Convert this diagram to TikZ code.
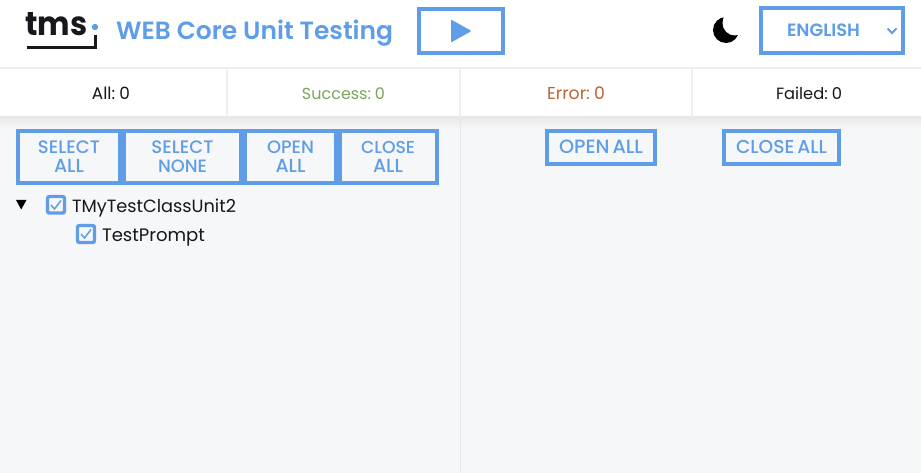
\documentclass[tikz,border=0pt]{standalone}
\usepackage{fontspec}
\usepackage{graphicx}
\setmainfont{Poppins}[WordSpace=0.6]
\newfontfamily\pmed{Poppins Medium}[WordSpace=0.6]
\newfontfamily\psemi{Poppins SemiBold}[WordSpace=0.6]
\newfontfamily\ptitle{Poppins SemiBold}[WordSpace=1.0]
\definecolor{tblue}{HTML}{5F9DE6}
\definecolor{bodybg}{HTML}{F6F7F9}
\definecolor{rule}{HTML}{EEEEEE}
\definecolor{okgreen}{HTML}{7CA55A}
\definecolor{errred}{HTML}{B9653A}
\definecolor{ink}{HTML}{17171C}
\newcommand{\fw}[2]{\resizebox{#1pt}{!}{#2}}
\newcommand{\fwh}[3]{\resizebox{#1pt}{#2pt}{#3}}
\tikzset{
  lbl/.style={inner sep=0pt,outer sep=0pt,anchor=base,text=ink},
  lbll/.style={inner sep=0pt,outer sep=0pt,anchor=base west,text=ink},
  btxt/.style={inner sep=0pt,outer sep=0pt,anchor=base,text=tblue},
  frame/.style={draw=tblue,line width=4pt,fill=none},
  sep/.style={draw=rule,line width=2pt},
  cbox/.style={draw=tblue,line width=3.4pt,rounded corners=2pt,fill=bodybg},
  ctick/.style={draw=tblue,line width=1.5pt}
}
\begin{document}
\begin{tikzpicture}[x=1pt,y=-1pt]
\useasboundingbox (0,0) rectangle (921,473);
% backgrounds
\fill[bodybg] (0,0) rectangle (921,473);
\fill[white] (0,0) rectangle (921,117);
\shade[top color=black!9,bottom color=bodybg] (0,117) rectangle (921,129);
% separators
\draw[sep] (0,68) -- (921,68);
\draw[sep] (227,69) -- (227,117);
\draw[sep] (460,69) -- (460,117);
\draw[sep] (692,69) -- (692,117);
\draw[draw=black!9,line width=1.6pt] (460.5,117) -- (460.5,473);
% logo
\node[inner sep=0pt,anchor=base west,text=ink] (logo) at (25,35.5) {\fwh{62}{23}{\bfseries tms}};
\fill[tblue] (95,27) circle (3.2);
\draw[ink,line width=2.8pt] (27,47.5) -- (95.5,47.5) -- (95.5,35);
% title
\node[btxt,anchor=base west] (title) at (116,40) {\fw{277}{\ptitle WEB Core Unit Testing}};
% play button
\draw[frame] (419,9) rectangle (503,53);
\fill[tblue,rounded corners=1pt] (451,19.5) -- (471.5,31) -- (451,42.5) -- cycle;
% moon
\fill[black] (726,30) circle (13);
\fill[white] (735,23) circle (12.5);
% language select
\draw[frame] (761,8) rectangle (903,53);
\node[btxt] (lang) at (823.5,36.5) {\fw{73}{\psemi ENGLISH}};
\draw[tblue,line width=2pt] (887.5,28.5) -- (892,33) -- (896.5,28.5);
% stats
\node[lbl] (all) at (111,99.5) {\fw{38}{All: 0}};
\node[lbl,text=okgreen] (succ) at (343.5,99.5) {\fw{83}{Success: 0}};
\node[lbl,text=errred] (err) at (576,99.5) {\fw{58}{Error: 0}};
\node[lbl] (fail) at (809,99.5) {\fw{66}{Failed: 0}};
% left buttons
\draw[frame] (18,131) rectangle (120,183);
\draw[frame] (124,131) rectangle (241,183);
\draw[frame] (245,131) rectangle (336,183);
\draw[frame] (340,131) rectangle (437,183);
\node[btxt] (sa1) at (69,154) {\fw{62}{\pmed SELECT}};
\node[btxt] (sa2) at (69,173) {\fw{30}{\pmed ALL}};
\node[btxt] (sn1) at (182.5,154) {\fw{62}{\pmed SELECT}};
\node[btxt] (sn2) at (182.5,173) {\fw{49}{\pmed NONE}};
\node[btxt] (oa1) at (290.5,154) {\fw{47}{\pmed OPEN}};
\node[btxt] (oa2) at (290.5,173) {\fw{30}{\pmed ALL}};
\node[btxt] (ca1) at (388,154) {\fw{54}{\pmed CLOSE}};
\node[btxt] (ca2) at (388,173) {\fw{30}{\pmed ALL}};
% right buttons
\draw[frame] (547,131) rectangle (655,164);
\draw[frame] (724,131) rectangle (839,164);
\node[btxt] (roa) at (601,154) {\fw{84}{\pmed OPEN ALL}};
\node[btxt] (rca) at (781.5,154) {\fw{91}{\pmed CLOSE ALL}};
% tree
\fill[black] (16,200) -- (26.5,200) -- (21.2,209.5) -- cycle;
\draw[cbox] (47.5,196.5) rectangle (64.5,213);
\draw[ctick] (51,205) -- (54.5,209) -- (61,200.5);
\node[lbll] (cls) at (72,212.5) {\fw{164}{TMyTestClassUnit2}};
\draw[cbox] (77.5,225.5) rectangle (94.5,242.5);
\draw[ctick] (81,234) -- (84.5,238) -- (91,229.5);
\node[lbll] (tp) at (102,241) {\fw{103}{TestPrompt}};
\end{tikzpicture}
\end{document}
